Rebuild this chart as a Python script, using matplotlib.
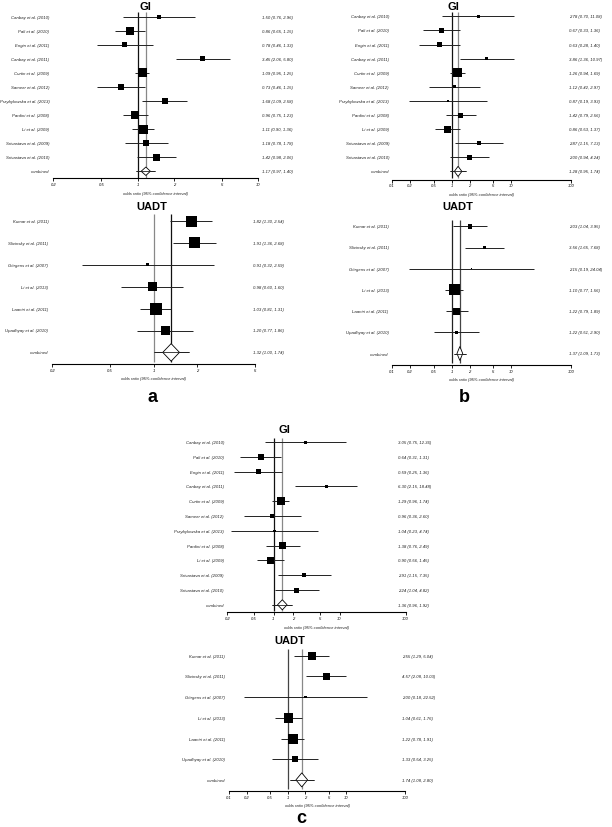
import numpy as np
import matplotlib
matplotlib.use("Agg")
import matplotlib.pyplot as plt
from matplotlib import transforms
from matplotlib.patches import Polygon
from matplotlib.ticker import NullLocator

plt.rcParams['font.family'] = ['Liberation Sans', 'DejaVu Sans']

# study labels
gi_names = ["Canbay et al. (2010)", "Pali et al. (2010)", "Engin et al. (2011)",
            "Canbay et al. (2011)", "Curtin et al. (2009)", "Sameer et al. (2012)",
            "Przybylowska et al. (2013)", "Pardini et al. (2008)", "Li et al. (2009)",
            "Srivastava et al. (2009)", "Srivastava et al. (2010)", "combined"]
uadt_names = ["Kumar et al. (2011)", "Slivinsky et al. (2011)", "Görgens et al. (2007)",
              "Li et al. (2013)", "Laantri et al. (2011)", "Upadhyay et al. (2010)", "combined"]

# panel a
a_gi_or = [1.50, 0.86, 0.78, 3.45, 1.09, 0.73, 1.68, 0.96, 1.11, 1.18, 1.42, 1.17]
a_gi_lo = [0.76, 0.65, 0.46, 2.06, 0.95, 0.46, 1.09, 0.75, 0.90, 0.78, 0.98, 0.97]
a_gi_hi = [2.96, 1.15, 1.33, 5.80, 1.25, 1.15, 2.58, 1.23, 1.36, 1.78, 2.06, 1.40]
a_gi_w = [4, 8, 5, 5, 9, 6, 6, 8, 9, 6, 7]
a_uadt_or = [1.82, 1.91, 0.91, 0.98, 1.03, 1.20, 1.32]
a_uadt_lo = [1.30, 1.36, 0.32, 0.60, 0.81, 0.77, 1.00]
a_uadt_hi = [2.54, 2.68, 2.59, 1.60, 1.31, 1.86, 1.74]
a_uadt_w = [11, 11, 3, 9, 12, 9]

# panel b
b_gi_or = [2.78, 0.67, 0.63, 3.86, 1.26, 1.12, 0.87, 1.42, 0.86, 2.87, 2.00, 1.28]
b_gi_lo = [0.70, 0.33, 0.28, 1.36, 0.94, 0.42, 0.19, 0.79, 0.53, 1.15, 0.94, 0.95]
b_gi_hi = [11.08, 1.36, 1.40, 10.97, 1.69, 2.97, 3.93, 2.56, 1.37, 7.13, 4.24, 1.74]
b_gi_w = [3, 5, 5, 3, 9, 3, 2, 5, 7, 3.5, 4.5]
b_uadt_or = [2.03, 3.56, 2.15, 1.10, 1.22, 1.22, 1.37]
b_uadt_lo = [1.04, 1.65, 0.19, 0.77, 0.79, 0.51, 1.09]
b_uadt_hi = [3.95, 7.68, 24.04, 1.56, 1.89, 2.90, 1.73]
b_uadt_w = [4.5, 3, 1.2, 11, 7, 3]

# panel c
c_gi_or = [3.05, 0.64, 0.59, 6.30, 1.29, 0.96, 1.04, 1.38, 0.90, 2.91, 2.24, 1.36]
c_gi_lo = [0.75, 0.31, 0.25, 2.15, 0.96, 0.36, 0.23, 0.76, 0.56, 1.15, 1.04, 0.96]
c_gi_hi = [12.36, 1.31, 1.36, 18.48, 1.74, 2.60, 4.74, 2.49, 1.45, 7.35, 4.82, 1.92]
c_gi_w = [3, 6, 5, 3.5, 7.5, 4, 2.5, 7, 7, 4.5, 5]
c_uadt_or = [2.55, 4.57, 2.00, 1.04, 1.22, 1.33, 1.74]
c_uadt_lo = [1.29, 2.08, 0.18, 0.61, 0.78, 0.54, 1.08]
c_uadt_hi = [5.04, 10.03, 22.52, 1.76, 1.91, 3.25, 2.80]
c_uadt_w = [8, 7.5, 2.5, 9.5, 10, 6]

ticks_a_gi = [0.2, 0.5, 1, 2, 5, 10]
ticks_a_uadt = [0.2, 0.5, 1, 2, 5]
ticks_b = [0.1, 0.2, 0.5, 1, 2, 5, 10, 100]
ticks_c_gi = [0.2, 0.5, 1, 2, 5, 10, 100]

W, H = 612, 828
fig = plt.figure(figsize=(W / 100, H / 100), dpi=100)


def forest(names, est, lo, hi, w, ticks, title, L):
    # L: layout in pixels
    n = len(est)
    comb = n - 1
    left = L['x0'] / W
    width = (L['x1'] - L['x0']) / W
    top_px = L['y0'] - 0.5 * L['dy']
    ax = fig.add_axes([left, 1 - L['ya'] / H, width, (L['ya'] - top_px) / H])
    ax.set_xscale('log')
    ax.set_xlim(ticks[0], ticks[-1])
    ax.set_ylim((L['ya'] - L['y0']) / L['dy'], -0.5)
    ax.patch.set_visible(False)
    for s in ['left', 'right', 'top']:
        ax.spines[s].set_visible(False)
    ax.spines['bottom'].set_linewidth(0.8)
    ax.set_yticks([])
    ax.set_xticks(ticks)
    ax.set_xticklabels([f'{t:g}' for t in ticks], fontsize=3, style='italic')
    ax.xaxis.set_minor_locator(NullLocator())
    ax.tick_params(axis='x', length=2, width=0.6, pad=0.8)

    ax.vlines(1, -0.3, comb + 0.45, color=L['c_null'], lw=0.9, zorder=1)
    ax.vlines(est[-1], -0.3, comb + 0.45, color=L['c_sum'], lw=0.9, zorder=1)
    ax.hlines(np.arange(n), lo, hi, color='#222222', lw=0.7, zorder=2)
    ax.scatter(est[:-1], np.arange(n - 1), marker='s', s=(np.array(w) * 0.72) ** 2,
               color='black', linewidths=0, zorder=3)

    e, l, h = est[-1], lo[-1], hi[-1]
    dl = 0.48 * np.log(e / l)
    dr = 0.48 * np.log(h / e)
    dh = L['dh']
    ax.add_patch(Polygon([(e * np.exp(-dl), comb), (e, comb - dh),
                          (e * np.exp(dr), comb), (e, comb + dh)],
                         closed=True, facecolor='white', edgecolor='black', lw=0.6, zorder=4))
    ax.hlines(comb, l, h, color='#222222', lw=0.6, zorder=5)

    tr = transforms.blended_transform_factory(fig.transFigure, ax.transData)
    for i in range(n):
        ax.text(L['lab'] / W, i, names[i], transform=tr, ha='right', va='center',
                fontsize=3.1, style='italic', color='#222222')
        ax.text(L['val'] / W, i, f'{est[i]:.2f} ({lo[i]:.2f}, {hi[i]:.2f})', transform=tr,
                ha='left', va='center', fontsize=3.1, style='italic', color='#222222')

    fig.text(L['tx'] / W, 1 - L['ty'] / H, title, ha='center', va='center',
             fontsize=8, fontweight='bold')
    fig.text((L['x0'] + L['x1']) / 2 / W, 1 - (L['ya'] + 14.5) / H,
             'odds ratio (95% confidence interval)', ha='center', va='center',
             fontsize=3, style='italic', color='#222222')


forest(gi_names, a_gi_or, a_gi_lo, a_gi_hi, a_gi_w, ticks_a_gi, 'GI',
       dict(x0=53.3, x1=258.3, y0=17.7, dy=14.05, ya=179, lab=49.3, val=261.7,
            tx=145, ty=6.5, dh=0.3, c_null='#111111', c_sum='#888888'))
forest(uadt_names, a_uadt_or, a_uadt_lo, a_uadt_hi, a_uadt_w, ticks_a_uadt, 'UADT',
       dict(x0=52.3, x1=255, y0=222, dy=21.9, ya=365, lab=48.3, val=253.3,
            tx=151.7, ty=206.7, dh=0.4, c_null='#888888', c_sum='#111111'))
forest(gi_names, b_gi_or, b_gi_lo, b_gi_hi, b_gi_w, ticks_b, 'GI',
       dict(x0=392, x1=571, y0=17.3, dy=14.1, ya=180.5, lab=389, val=569.3,
            tx=453.8, ty=6.5, dh=0.36, c_null='#111111', c_sum='#888888'))
forest(uadt_names, b_uadt_or, b_uadt_lo, b_uadt_hi, b_uadt_w, ticks_b, 'UADT',
       dict(x0=392, x1=571, y0=227.3, dy=21.2, ya=366, lab=388.7, val=568.7,
            tx=457.5, ty=207.2, dh=0.33, c_null='#222222', c_sum='#444444'))
forest(gi_names, c_gi_or, c_gi_lo, c_gi_hi, c_gi_w, ticks_c_gi, 'GI',
       dict(x0=227.3, x1=405.7, y0=443, dy=14.8, ya=613, lab=224, val=398.3,
            tx=284, ty=430.5, dh=0.34, c_null='#111111', c_sum='#888888'))
forest(uadt_names, c_uadt_or, c_uadt_lo, c_uadt_hi, c_uadt_w, ticks_b, 'UADT',
       dict(x0=229, x1=405, y0=656.7, dy=20.7, ya=792, lab=225, val=402.3,
            tx=289.7, ty=641, dh=0.34, c_null='#444444', c_sum='#888888'))

for letter, x, y in [('a', 152.5, 397.5), ('b', 464, 398), ('c', 301.7, 818.5)]:
    fig.text(x / W, 1 - y / H, letter, ha='center', va='center', fontsize=13, fontweight='bold')

fig.savefig('out.png', dpi=100)
